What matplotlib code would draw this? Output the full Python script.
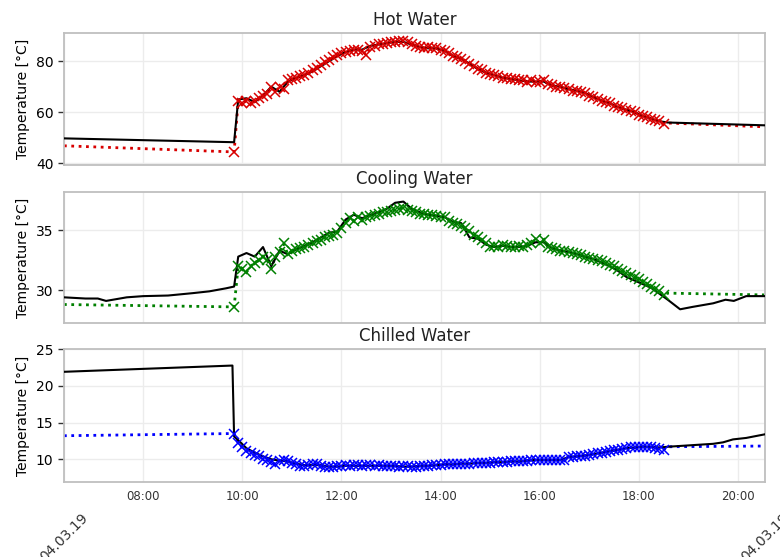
import numpy as np
import pandas as pd
import matplotlib
matplotlib.use('Agg')
import matplotlib.pyplot as plt
import matplotlib.dates as mdates

day = '2019-03-04 '

# simulation grid (5 min) and measurement grid (10 min)
sim_grid = pd.date_range(day + '09:50', day + '18:30', freq='5min')
meas_grid = pd.date_range(day + '09:55', day + '18:25', freq='10min')
x_start = day + '06:24'
x_end = day + '20:33'

# ---------------- Hot Water ----------------
hot_sim = [44.5, 64.5,
           63.5, 64.5, 63.5, 64.5, 65.5, 66.5, 67.0, 70.0, 68.0, 70.0, 69.0, 72.5,
           73.0, 73.5, 74.0, 74.5, 75.5, 76.5, 77.5, 78.5, 79.5, 80.5, 81.5, 82.5,
           83.0, 83.5, 84.0, 84.5, 84.5, 84.0, 82.5, 85.5, 86.0, 86.5, 86.5, 87.0,
           87.5, 87.5, 88.0, 88.0, 87.5, 86.5, 86.0, 85.5, 85.0, 85.5, 85.0, 85.0,
           84.5, 84.0, 83.0, 82.0, 81.5, 81.0, 80.0, 79.0, 78.0, 77.0, 76.5, 75.5,
           75.0, 74.5, 74.0, 73.5, 73.5, 73.0, 73.0, 72.5, 72.5, 72.0, 72.5, 72.0,
           72.0, 72.5, 71.0, 70.5, 70.0, 70.0, 69.5, 69.0, 68.5, 68.5, 68.0, 67.5,
           66.5, 66.0, 65.0, 64.5, 64.0, 63.5, 62.5, 62.0, 61.5, 61.0, 60.5, 60.0,
           59.0, 58.5, 58.0, 57.5, 57.0, 56.5, 55.5]
hot_sim_pre_t = ['06:24']
hot_sim_pre = [46.9]
hot_sim_post_t = ['18:35', '20:33']
hot_sim_post = [55.8, 54.3]

hot_meas = [65.0,
            65.5, 64.0, 66.5, 70.0, 68.0, 72.0,
            73.5, 74.5, 76.0, 78.0, 80.0, 82.0,
            83.5, 84.5, 84.5, 86.0, 86.5, 87.0,
            87.5, 87.5, 86.5, 85.5, 85.0, 85.0,
            84.0, 82.0, 81.0, 79.0, 77.0, 75.5,
            74.5, 73.5, 73.0, 72.5, 72.0, 72.0,
            72.0, 70.5, 70.0, 69.0, 68.5, 67.5,
            66.0, 64.5, 63.5, 62.0, 61.0, 60.0,
            58.5, 57.5, 56.5]
hot_meas_pre_t = ['06:24', '09:50']
hot_meas_pre = [49.8, 48.3]
hot_meas_post_t = ['18:35', '20:33']
hot_meas_post = [56.0, 54.9]

# ---------------- Cooling Water ----------------
cool_sim = [28.6, 32.0,
            31.8, 31.5, 32.0, 32.3, 32.5, 32.8, 32.5, 31.8, 32.8, 33.2, 33.9, 33.0,
            33.3, 33.4, 33.5, 33.6, 33.8, 33.9, 34.1, 34.2, 34.4, 34.5, 34.6, 34.8,
            35.2, 35.6, 36.0, 35.8, 36.1, 35.9, 36.1, 36.2, 36.3, 36.4, 36.5, 36.5,
            36.6, 36.7, 36.8, 36.9, 36.7, 36.6, 36.5, 36.4, 36.4, 36.3, 36.3, 36.2,
            36.1, 36.1, 35.8, 35.6, 35.5, 35.4, 35.2, 34.9, 34.6, 34.4, 34.2, 33.9,
            33.6, 33.7, 33.6, 33.8, 33.7, 33.6, 33.6, 33.7, 33.6, 33.8, 33.9, 34.3,
            33.9, 34.2, 33.6, 33.5, 33.4, 33.3, 33.3, 33.2, 33.1, 33.0, 32.9, 32.8,
            32.7, 32.6, 32.5, 32.4, 32.3, 32.1, 32.0, 31.8, 31.6, 31.4, 31.3, 31.1,
            30.9, 30.7, 30.5, 30.3, 30.1, 29.9, 29.6]
cool_sim_pre_t = ['06:24']
cool_sim_pre = [28.8]
cool_sim_post_t = ['18:35', '20:33']
cool_sim_post = [29.75, 29.6]

cool_meas = [32.8,
             33.1, 32.8, 33.6, 32.0, 33.3, 33.0,
             33.4, 33.7, 34.0, 34.4, 34.8, 34.9,
             35.9, 36.3, 36.0, 36.3, 36.5, 36.8,
             37.3, 37.4, 36.8, 36.5, 36.3, 36.2,
             36.1, 35.7, 35.6, 34.4, 34.3, 33.8,
             33.6, 33.7, 33.6, 33.6, 33.7, 34.0,
             34.0, 33.5, 33.3, 33.2, 33.0, 32.8,
             32.6, 32.3, 32.0, 31.6, 31.1, 30.8,
             30.5, 30.2, 29.7]
cool_meas_pre_t = ['06:24', '06:50', '07:05', '07:15', '07:40', '08:00', '08:30',
                   '09:00', '09:20', '09:40', '09:50']
cool_meas_pre = [29.4, 29.3, 29.3, 29.1, 29.4, 29.5, 29.55, 29.75, 29.9, 30.15, 30.3]
cool_meas_post_t = ['18:35', '18:50', '19:05', '19:30', '19:45', '19:55', '20:10', '20:33']
cool_meas_post = [29.2, 28.4, 28.6, 28.9, 29.2, 29.1, 29.5, 29.5]

# ---------------- Chilled Water ----------------
chill_sim = [13.5, 12.2,
             11.6, 11.1, 10.8, 10.6, 10.4, 10.1, 9.9, 9.6, 9.3, 9.8, 9.9, 9.7,
             9.5, 9.3, 9.1, 9.1, 9.2, 9.3, 9.3, 9.1, 8.9, 8.9, 9.0, 9.1,
             9.1, 9.2, 9.1, 9.2, 9.2, 9.1, 9.2, 9.2, 9.1, 9.2, 9.1, 9.1,
             9.1, 9.1, 9.0, 9.1, 9.1, 9.0, 9.0, 9.1, 9.1, 9.1, 9.2, 9.2,
             9.2, 9.3, 9.3, 9.3, 9.4, 9.4, 9.4, 9.4, 9.5, 9.5, 9.5, 9.5,
             9.5, 9.6, 9.6, 9.6, 9.6, 9.7, 9.7, 9.7, 9.8, 9.8, 9.9, 9.9,
             9.9, 9.9, 9.9, 9.9, 9.9, 9.9, 9.9, 10.3, 10.3, 10.4, 10.4, 10.5,
             10.6, 10.7, 10.8, 10.9, 11.0, 11.1, 11.2, 11.3, 11.4, 11.5, 11.6, 11.6,
             11.7, 11.7, 11.7, 11.6, 11.5, 11.4, 11.3]
chill_sim_pre_t = ['06:24']
chill_sim_pre = [13.2]
chill_sim_post_t = ['18:35', '20:33']
chill_sim_post = [11.7, 11.8]

chill_meas = [12.6,
              11.5, 10.9, 10.4, 10.0, 9.8, 9.7,
              9.4, 9.2, 9.2, 9.2, 9.0, 9.0,
              9.1, 9.1, 9.1, 9.1, 9.1, 9.1,
              9.1, 9.0, 9.0, 9.1, 9.1, 9.2,
              9.3, 9.3, 9.4, 9.4, 9.5, 9.5,
              9.6, 9.6, 9.7, 9.7, 9.8, 9.9,
              9.9, 9.9, 9.9, 10.3, 10.4, 10.5,
              10.7, 10.9, 11.1, 11.3, 11.5, 11.6,
              11.7, 11.7, 11.6]
chill_meas_pre_t = ['06:24', '09:48', '09:50']
chill_meas_pre = [21.9, 22.75, 13.1]
chill_meas_post_t = ['18:35', '19:30', '19:42', '19:54', '20:10', '20:33']
chill_meas_post = [11.7, 12.1, 12.3, 12.7, 12.9, 13.4]


def times(lst):
    return pd.to_datetime([day + t for t in lst])


panels = [
    ('Hot Water', '#d80000', (39.4, 91), [40, 60, 80],
     hot_sim, hot_sim_pre_t, hot_sim_pre, hot_sim_post_t, hot_sim_post,
     hot_meas, hot_meas_pre_t, hot_meas_pre, hot_meas_post_t, hot_meas_post),
    ('Cooling Water', 'green', (27.25, 38.2), [30, 35],
     cool_sim, cool_sim_pre_t, cool_sim_pre, cool_sim_post_t, cool_sim_post,
     cool_meas, cool_meas_pre_t, cool_meas_pre, cool_meas_post_t, cool_meas_post),
    ('Chilled Water', 'blue', (6.9, 25), [10, 15, 20, 25],
     chill_sim, chill_sim_pre_t, chill_sim_pre, chill_sim_post_t, chill_sim_post,
     chill_meas, chill_meas_pre_t, chill_meas_pre, chill_meas_post_t, chill_meas_post),
]

fig = plt.figure(figsize=(7.8, 5.57), dpi=100)
boxes = [(0.7038, 0.9408), (0.42, 0.6553), (0.1346, 0.3734)]
left, right = 0.082, 0.981

for i, p in enumerate(panels):
    (title, col, ylim, yticks, sim, spt, spv, sqt, sqv, meas, mpt, mpv, mqt, mqv) = p
    b, t = boxes[i]
    ax = fig.add_axes([left, b, right - left, t - b])

    # measured: solid black
    mt = times(mpt).append(meas_grid).append(times(mqt))
    mv = list(mpv) + list(meas) + list(mqv)
    ax.plot(mt, mv, color='black', lw=1.5, zorder=3)

    # simulated: dotted line with x markers in the simulation window
    st = times(spt).append(sim_grid).append(times(sqt))
    sv = list(spv) + list(sim) + list(sqv)
    ax.plot(st, sv, color=col, ls=':', lw=2, zorder=2)
    ax.plot(sim_grid, sim, ls='none', marker='x', ms=6.5, mew=1.1, color=col, zorder=4)

    ax.set_title(title, fontsize=12, color='#222222')
    ax.set_ylabel('Temperature [°C]', fontsize=10)
    ax.set_ylim(*ylim)
    ax.set_yticks(yticks)
    ax.set_xlim(pd.Timestamp(x_start), pd.Timestamp(x_end))

    ax.set_xticks([pd.Timestamp(x_start), pd.Timestamp(x_end)])
    ax.xaxis.set_major_formatter(mdates.DateFormatter('%d.%m.%y'))
    ax.xaxis.set_minor_locator(mdates.HourLocator(byhour=range(0, 24, 2)))
    ax.xaxis.set_minor_formatter(mdates.DateFormatter('%H:%M'))
    ax.tick_params(axis='x', which='both', length=0)
    ax.tick_params(axis='x', which='minor', pad=6, labelsize=8.5, labelcolor='#333333')
    ax.tick_params(axis='x', which='major', pad=21, labelsize=10, labelrotation=45, labelcolor='#333333')
    ax.tick_params(axis='y', which='major', length=4, width=1, color='#333333', labelsize=10)

    ax.grid(True, which='both', axis='x', color='#ececec', lw=1)
    ax.grid(True, which='major', axis='y', color='#ececec', lw=1)
    ax.set_axisbelow(True)
    for s in ax.spines.values():
        s.set_color('#bfbfbf')
        s.set_linewidth(1.3)

    if i < 2:
        ax.tick_params(axis='x', which='both', labelbottom=False)

fig.savefig('out.png', dpi=100)
